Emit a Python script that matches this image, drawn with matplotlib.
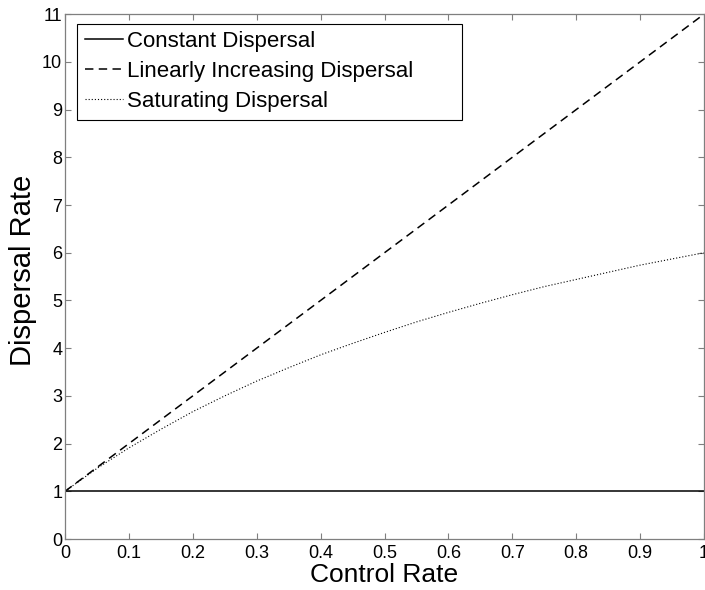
import matplotlib
matplotlib.use("Agg")
import matplotlib.pyplot as plt
from matplotlib.patches import Rectangle

# ------------------------------------------------------------------
# Data
# ------------------------------------------------------------------

control_rate = [0.0, 0.05, 0.1, 0.15, 0.2, 0.25, 0.3, 0.35, 0.4, 0.45, 0.5,
                0.55, 0.6, 0.65, 0.7, 0.75, 0.8, 0.85, 0.9, 0.95, 1.0]
constant_dispersal = [1.0] * len(control_rate)
linear_dispersal = [1.0, 1.5, 2.0, 2.5, 3.0, 3.5, 4.0, 4.5, 5.0, 5.5, 6.0,
                    6.5, 7.0, 7.5, 8.0, 8.5, 9.0, 9.5, 10.0, 10.5, 11.0]
saturating_dispersal = [1.0, 1.48, 1.91, 2.30, 2.67, 3.00, 3.31, 3.59, 3.86,
                        4.10, 4.33, 4.55, 4.75, 4.94, 5.12, 5.29, 5.44,
                        5.59, 5.74, 5.87, 6.0]

series_labels = ["Constant Dispersal", "Linearly Increasing Dispersal",
                 "Saturating Dispersal"]

x_ticks = [0, 0.1, 0.2, 0.3, 0.4, 0.5, 0.6, 0.7, 0.8, 0.9, 1]
x_tick_labels = ["0", "0.1", "0.2", "0.3", "0.4", "0.5", "0.6", "0.7",
                 "0.8", "0.9", "1"]
y_ticks = list(range(0, 12))

plt.rcParams["font.family"] = ["Liberation Sans", "DejaVu Sans"]

fig = plt.figure(figsize=(7.05, 5.9), dpi=100)
ax = fig.add_axes([0.0922, 0.0864, 0.9064, 0.8896])

ax.plot(control_rate, constant_dispersal, color="black", linewidth=1.1,
        linestyle="-", label=series_labels[0])
ax.plot(control_rate, linear_dispersal, color="black", linewidth=1.1,
        linestyle=(0, (5.5, 3.5)), label=series_labels[1])
ax.plot(control_rate, saturating_dispersal, color="black", linewidth=0.8,
        linestyle=(0, (1, 1.8)), label=series_labels[2])

ax.set_xlim(0, 1)
ax.set_ylim(0, 11)
ax.set_xticks(x_ticks)
ax.set_xticklabels(x_tick_labels)
ax.set_yticks(y_ticks)

ax.tick_params(direction="in", length=4.5, width=0.8, color="#7f7f7f",
               labelsize=13, top=True, right=True)
ax.tick_params(axis="x", pad=4)
ax.tick_params(axis="y", pad=2)
for spine in ax.spines.values():
    spine.set_color("#7f7f7f")
    spine.set_linewidth(0.9)

ax.set_xlabel("Control Rate", fontsize=19, labelpad=1)
ax.set_ylabel("Dispersal Rate", fontsize=21)
ax.yaxis.set_label_coords(-0.0435, 0.512)

# legend box, MATLAB style: wide frame with extra space on the right
ax.add_patch(Rectangle((0.0188, 0.798), 0.6025, 0.183,
                       transform=ax.transAxes, fill=True, facecolor="white",
                       edgecolor="black", linewidth=0.8, zorder=4))
leg = ax.legend(loc="upper left", bbox_to_anchor=(0.0313, 0.968),
                fontsize=16, frameon=False, borderpad=0, borderaxespad=0,
                handlelength=1.7, handletextpad=0.18, labelspacing=0.4)
leg.set_zorder(5)

fig.savefig("out.png", dpi=100)
